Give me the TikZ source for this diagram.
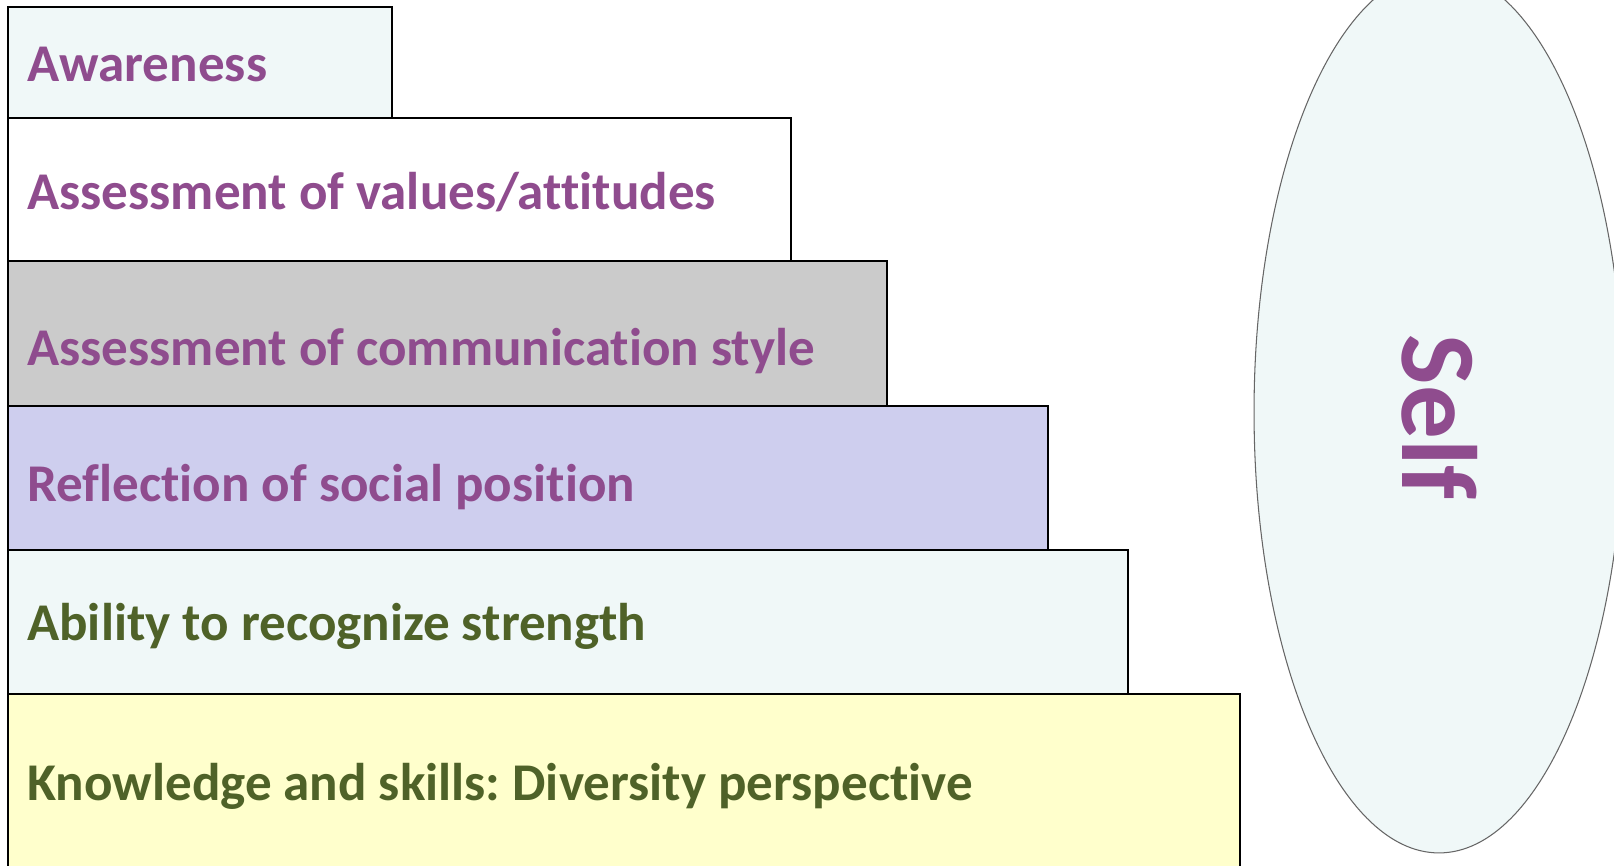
\documentclass[tikz,border=0pt]{standalone}
\usepackage{fontspec}
\setmainfont{Carlito}[RawFeature={-liga}]
\usepackage{tikz}
\usetikzlibrary{shapes.geometric}
\definecolor{txtpurple}{HTML}{8F4C8E}
\definecolor{txtgreen}{HTML}{4F6228}
\definecolor{paleaqua}{HTML}{F0F8F8}
\definecolor{palegray}{HTML}{CBCBCB}
\definecolor{lavender}{HTML}{CECEEE}
\definecolor{paleyellow}{HTML}{FFFFCC}
\frenchspacing
\begin{document}
\begin{tikzpicture}[x=0.02cm,y=-0.02cm]
		\tikzstyle{level} = [draw, line width=1.4pt, rectangle, anchor=north west, inner sep=0pt]
		\tikzstyle{label} = [anchor=base west, inner sep=0pt, font=\fontsize{30.2}{36}\selectfont\bfseries]
		\clip (0,0) rectangle (1614,866);
		\node [level, fill=paleaqua, minimum width=7.68cm, minimum height=2.22cm] (aware) at (7,6) {};
		\node [level, fill=white, minimum width=15.66cm, minimum height=2.86cm] (values) at (7,117) {};
		\node [level, fill=palegray, minimum width=17.58cm, minimum height=2.9cm] (comm) at (7,260) {};
		\node [level, fill=lavender, minimum width=20.8cm, minimum height=2.88cm] (social) at (7,405) {};
		\node [level, fill=paleaqua, minimum width=22.4cm, minimum height=2.88cm] (strength) at (7,549) {};
		\node [level, fill=paleyellow, minimum width=24.64cm, minimum height=4.4cm] (knowledge) at (7,693) {};
		\node [label, txtpurple] (awaretxt) at (27,81) {Awareness};
		\node [label, txtpurple] (valuestxt) at (27,209) {Assessment of values/attitudes};
		\node [label, txtpurple] (commtxt) at (27,365) {Assessment of communication style};
		\node [label, txtpurple] (socialtxt) at (27,501) {Reflection of social position};
		\node [label, txtgreen] (strengthtxt) at (27,640) {Ability to recognize strength};
		\node [label, txtgreen] (knowledgetxt) at (27,800) {Knowledge and skills: Diversity perspective};
		% self
		\node [ellipse, draw=black!60, line width=0.6pt, fill=paleaqua, minimum width=7.4cm, minimum height=17.64cm, inner sep=0pt] (self) at (1439,412) {};
		\node [rotate=-90, txtpurple, inner sep=0pt, font=\fontsize{61}{70}\selectfont\bfseries] (selftxt) at (1440,417) {Self};
	\end{tikzpicture}
\end{document}
